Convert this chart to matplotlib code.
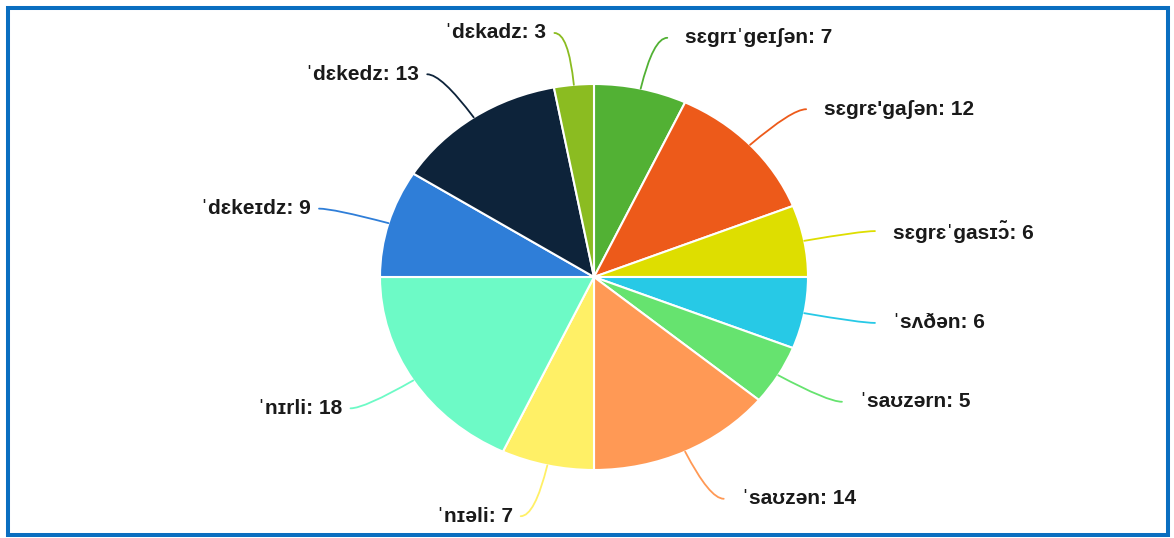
import numpy as np
import matplotlib
matplotlib.use("Agg")
import matplotlib.pyplot as plt
from matplotlib.patches import Rectangle

plt.rcParams['font.family'] = ['Liberation Sans', 'DejaVu Sans']

labels = ["sɛgrɪˈgeɪʃən", "sɛgrɛ'gaʃən", "sɛgrɛˈgasɪɔ̃", "ˈsʌðən", "ˈsaʊzərn",
          "ˈsaʊzən", "ˈnɪəli", "ˈnɪrli", "ˈdɛkeɪdz", "ˈdɛkedz", "ˈdɛkadz"]
values = [7, 12, 6, 6, 5, 14, 7, 18, 9, 13, 3]
colors = ["#52b134", "#ed5a1a", "#dede00", "#27c9e6", "#66e36f",
          "#ff9955", "#fff066", "#6dfac6", "#2f7ed8", "#0d233a", "#8bbc21"]

W, H = 1174, 538
fig = plt.figure(figsize=(W / 100, H / 100), dpi=100)

# pie is slightly squashed in the reference: 428 px wide, 386 px tall
cx, cy, rx, ry = 594, 277, 214, 193
ax = fig.add_axes([(cx - rx) / W, 1 - (cy + ry) / H, 2 * rx / W, 2 * ry / H])

wedges, _ = ax.pie(values, colors=colors, startangle=90, counterclock=False,
                   radius=1, center=(0, 0),
                   wedgeprops=dict(edgecolor='white', linewidth=1.5))
ax.set_aspect('auto')
ax.set_xlim(-1, 1)
ax.set_ylim(-1, 1)
ax.axis('off')

total = sum(values)
cum = np.cumsum([0] + values)
for i, (lab, v) in enumerate(zip(labels, values)):
    frac = (cum[i] + v / 2) / total
    a = 2 * np.pi * frac  # clockwise from top
    sx, sy = np.sin(a), np.cos(a)
    d = 1.27
    right = sx >= 0
    sgn = 1 if right else -1
    # connector end: radial point pushed sideways so the line bends
    tx, ty = d * sx + sgn * 14 / rx, d * sy
    ang_b = np.degrees(np.arctan2(ry * sy, rx * sx))
    ax.annotate("", xy=(sx, sy), xytext=(tx, ty),
                arrowprops=dict(arrowstyle='-', color=colors[i], lw=1.3,
                                connectionstyle=f"angle3,angleA=0,angleB={ang_b:.1f}",
                                shrinkA=0, shrinkB=0),
                annotation_clip=False)
    gap = 18 if right else 8
    ax.text(tx + sgn * gap / rx, ty, f"{lab}: {v}", ha='left' if right else 'right',
            va='center', fontsize=15, fontweight='bold', color='#1a1a1a',
            clip_on=False)

fig.patches.append(Rectangle((8 / W, 3 / H), (1168 - 8) / W, (530 - 3) / H,
                             transform=fig.transFigure, fill=False,
                             edgecolor='#0a6ec0', linewidth=2.9))

fig.savefig("out.png", dpi=100)
